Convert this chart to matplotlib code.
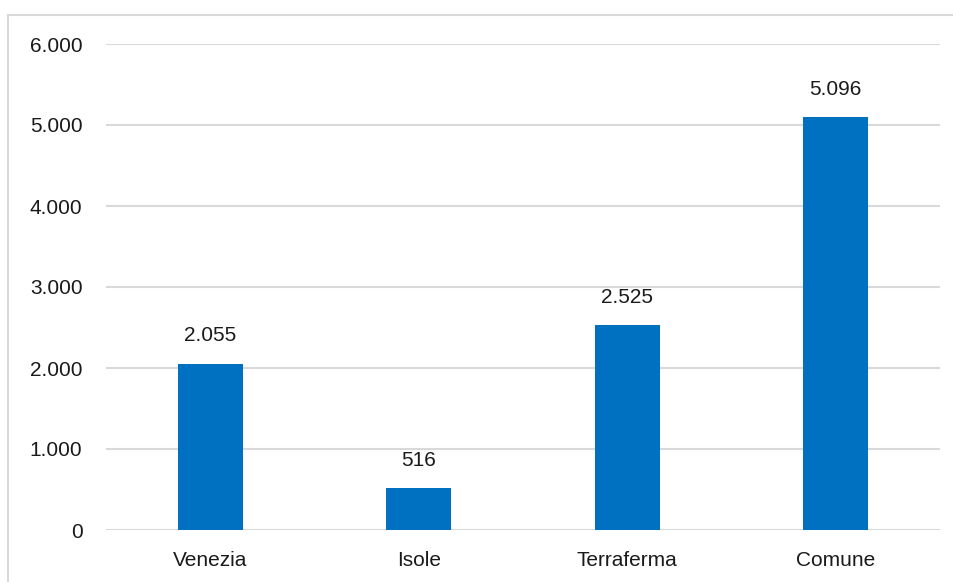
import matplotlib

matplotlib.use("Agg")

import matplotlib.pyplot as plt
from matplotlib.patches import Rectangle

categories = ["Venezia", "Isole", "Terraferma", "Comune"]
values = [2055, 516, 2525, 5096]
yticks = [0, 1000, 2000, 3000, 4000, 5000, 6000]


def fmt_it(v):
    return f"{v:,.0f}".replace(",", ".")


plt.rcParams["font.family"] = ["Liberation Sans", "DejaVu Sans"]

fig = plt.figure(figsize=(9.54, 5.82), dpi=100)
ax = fig.add_axes([106 / 954, 1 - 530 / 582, 834 / 954, 486 / 582])

# outer chart border (cropped on right and bottom)
fig.patches.append(
    Rectangle((8 / 954, -0.1), 1.2, 1 - 15 / 582 + 0.1,
              transform=fig.transFigure, fill=False,
              edgecolor="#d9d9d9", linewidth=1.5)
)

x = list(range(len(categories)))
ax.bar(x, values, width=0.31, color="#0070C0", zorder=3)

for xi, v in zip(x, values):
    ax.annotate(fmt_it(v), (xi, v), xytext=(0, 13), textcoords="offset points",
                ha="center", va="bottom", fontsize=15, color="#1a1a1a")

ax.set_xlim(-0.5, len(categories) - 0.5)
ax.set_ylim(0, 6000)
ax.set_yticks(yticks)
ax.set_yticklabels([fmt_it(t) for t in yticks])
ax.set_xticks(x)
ax.set_xticklabels(categories)
ax.tick_params(axis="y", length=0, pad=17, labelsize=15, labelcolor="#1a1a1a")
ax.tick_params(axis="x", length=0, pad=15, labelsize=15, labelcolor="#1a1a1a")
ax.grid(axis="y", color="#d9d9d9", linewidth=1.5, zorder=0)
for s in ax.spines.values():
    s.set_visible(False)

fig.savefig("out.png", dpi=100, facecolor="white")
